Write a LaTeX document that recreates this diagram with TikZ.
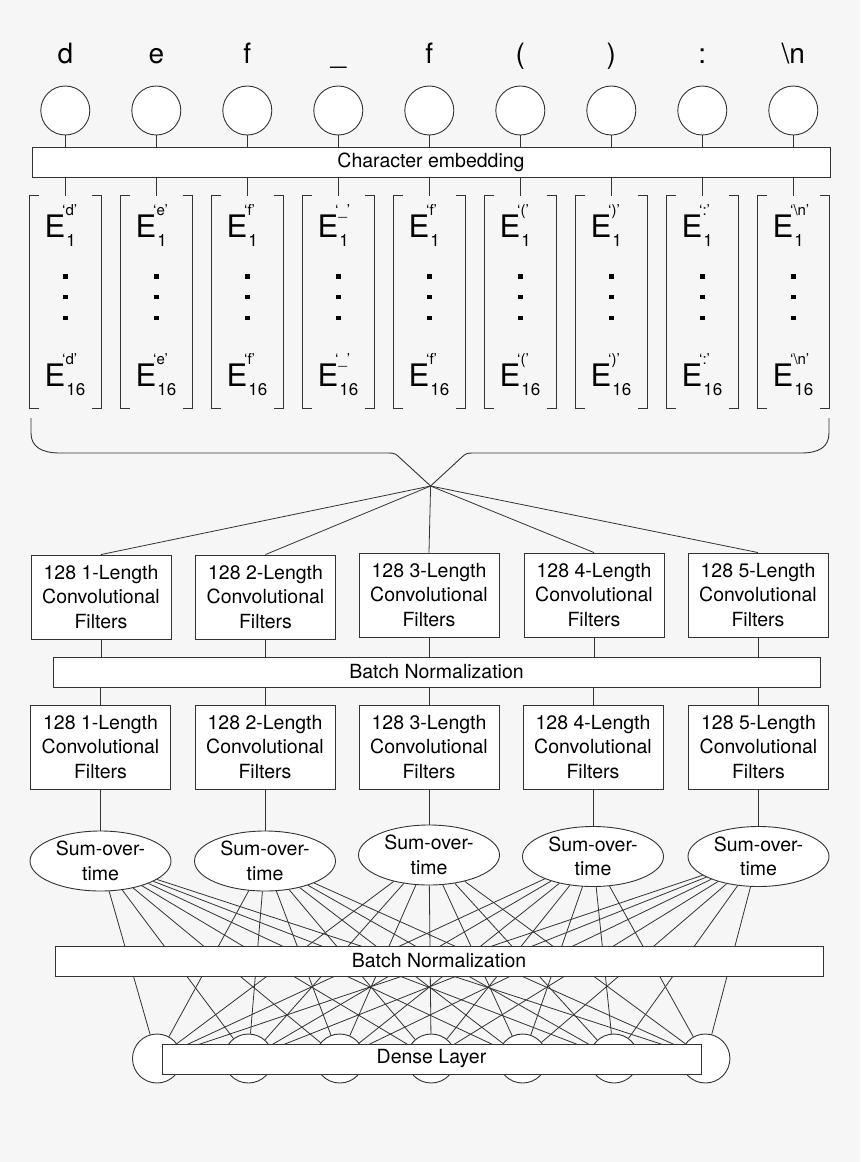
\documentclass[tikz,border=0pt]{standalone}
\usepackage{fontspec}
\setmainfont{TeX Gyre Heros}
\usetikzlibrary{shapes.geometric}
\definecolor{bg}{HTML}{F6F6F6}
\definecolor{ln}{HTML}{333333}
\newcommand\lblfont{\fontsize{19.5}{24.5}\selectfont}
\newcommand\chfont{\fontsize{28}{32}\selectfont}
\newcommand\Efont{\fontsize{31}{36}\selectfont}
\newcommand\supfont{\fontsize{15}{18}\selectfont}
\newcommand\subfont{\fontsize{17}{20}\selectfont}
\newcommand\Eterm[2]{E\rlap{\kern-3.2pt\raisebox{22.7pt}{\supfont ‘#1’}}\kern1pt\raisebox{-8.3pt}{\subfont #2}}
\begin{document}
\begin{tikzpicture}[x=1pt,y=-1pt,
  box/.style={draw=ln, line width=0.9pt, fill=white, inner sep=0pt, align=center, font=\lblfont},
  bar/.style={box, minimum height=30pt},
  conv/.style={box, minimum width=140pt, minimum height=84pt},
  sumnode/.style={box, ellipse, minimum width=141pt, minimum height=60pt},
  unit/.style={draw=ln, line width=0.9pt, fill=white, circle, minimum size=49pt, inner sep=0pt},
  conn/.style={draw=ln, line width=0.8pt},
  brk/.style={draw=ln, line width=0.9pt},
  holder/.style={inner sep=0pt, minimum width=71pt, minimum height=212pt}]
\fill[bg] (0,0) rectangle (860,1162);
\useasboundingbox (0,0) rectangle (860,1162);

% input characters and circles
\foreach \ch [count=\k] in {{d},{e},{f},{\_},{f},{(},{)},{:},{\textbackslash n}}{
  \node[inner sep=0pt, anchor=base, font=\chfont] (c\k) at ({65.3+91*(\k-1)},63.3) {\ch};
  \node[unit] (i\k) at ({65.3+91*(\k-1)},110.5) {};
}
\node[bar, minimum width=798pt] (emb) at (431,162) {Character embedding};
\foreach \k in {1,...,9}{
  \draw[conn] (i\k.south) -- (i\k.south |- emb.north);
}

% embedding vectors
\foreach \ch [count=\k] in {{d},{e},{f},{\_},{f},{(},{)},{:},{\textbackslash n}}{
  \pgfmathsetmacro\cx{65.5+91*(\k-1)}
  \node[holder] (b\k) at (\cx,302) {};
  \draw[brk] ([xshift=9.5pt]b\k.north west) -- (b\k.north west) -- (b\k.south west) -- ([xshift=9.5pt]b\k.south west);
  \draw[brk] ([xshift=-9.5pt]b\k.north east) -- (b\k.north east) -- (b\k.south east) -- ([xshift=-9.5pt]b\k.south east);
  \draw[conn] (emb.south -| b\k.north) -- (b\k.north);
  \node[inner sep=0pt, anchor=base west, font=\Efont] (ea\k) at (\cx-21,237.7) {\Eterm{\ch}{1}};
  \node[inner sep=0pt, anchor=base west, font=\Efont] (eb\k) at (\cx-21,386.7) {\Eterm{\ch}{16}};
  \foreach \yy in {274.3,294.8,316}{
    \fill[black] (\cx-2.2,\yy) rectangle ++(4.4,4.4);
  }
}

% brace
\coordinate (tip) at (430.6,486);
\draw[brk] (31,418) -- (31,433) .. controls (31,447) and (42,453) .. (60,453) -- (389,453)
  .. controls (394,453) and (396,454) .. (399,457) -- (tip) -- (462,457)
  .. controls (465,454) and (467,453) .. (472,453) -- (801,453)
  .. controls (819,453) and (829,447) .. (829,433) -- (829,418);

% first convolution row
\node[conv] (p1) at (101,597) {128 1-Length\\Convolutional\\Filters};
\node[conv] (p2) at (265.5,597) {128 2-Length\\Convolutional\\Filters};
\node[conv] (p3) at (429,595) {128 3-Length\\Convolutional\\Filters};
\node[conv] (p4) at (594,595) {128 4-Length\\Convolutional\\Filters};
\node[conv] (p5) at (758,595) {128 5-Length\\Convolutional\\Filters};
\foreach \k in {1,...,5}{ \draw[conn] (tip) -- (p\k.north); }

\node[bar, minimum width=767pt] (bn1) at (436.5,672) {Batch Normalization};

% second convolution row
\node[conv] (q1) at (100.5,747) {128 1-Length\\Convolutional\\Filters};
\node[conv] (q2) at (265,747) {128 2-Length\\Convolutional\\Filters};
\node[conv] (q3) at (429,747) {128 3-Length\\Convolutional\\Filters};
\node[conv] (q4) at (593,747) {128 4-Length\\Convolutional\\Filters};
\node[conv] (q5) at (758.5,747) {128 5-Length\\Convolutional\\Filters};
\foreach \k in {1,...,5}{
  \draw[conn] (p\k.south) -- (p\k.south |- bn1.north);
  \draw[conn] (bn1.south -| q\k.north) -- (q\k.north);
}

% sum over time
\node[sumnode] (s1) at (100.5,861) {Sum-over-\\time};
\node[sumnode] (s2) at (265,861) {Sum-over-\\time};
\node[sumnode] (s3) at (429,855) {Sum-over-\\time};
\node[sumnode] (s4) at (593,856.5) {Sum-over-\\time};
\node[sumnode] (s5) at (758.5,856.5) {Sum-over-\\time};
\foreach \k in {1,...,5}{ \draw[conn] (q\k.south) -- (s\k.north); }

% dense units
\foreach \j in {1,...,7}{
  \node[unit] (d\j) at ({157+91.4*(\j-1)},1058.5) {};
}
\foreach \i in {1,...,5}{
  \foreach \j in {1,...,7}{
    \draw[conn] (s\i) -- (d\j);
  }
}
\node[bar, minimum width=768pt] (bn2) at (439,961) {Batch Normalization};
\node[bar, minimum width=539pt] (dense) at (431.5,1059) {Dense Layer};
\end{tikzpicture}
\end{document}
